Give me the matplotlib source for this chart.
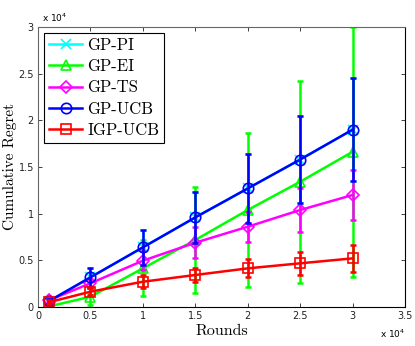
import numpy as np
import matplotlib
matplotlib.use("Agg")
import matplotlib.pyplot as plt
from matplotlib.ticker import FuncFormatter

# rounds and cumulative regret
rounds = [1000, 5000, 10000, 15000, 20000, 25000, 30000]

labels = ["GP-PI", "GP-EI", "GP-TS", "GP-UCB", "IGP-UCB"]
colors = ["#00ffff", "#00ff00", "#ff00ff", "#0000ff", "#ff0000"]
markers = ["x", "^", "D", "o", "s"]

pi_mean = [600, 3180, 6390, 9600, 12700, 15800, 19000]
pi_err = [250, 1000, 1860, 2750, 3700, 4650, 5550]
ei_mean = [50, 1100, 4140, 7180, 10390, 13420, 16630]
ei_err = [300, 900, 3000, 5700, 8300, 10800, 13400]
ts_mean = [700, 2540, 4960, 6890, 8600, 10390, 12000]
ts_err = [300, 500, 1000, 1650, 1600, 2400, 2700]
ucb_mean = [600, 3180, 6390, 9600, 12700, 15800, 19000]
ucb_err = [250, 1000, 1860, 2750, 3700, 4650, 5550]
igp_mean = [500, 1640, 2710, 3430, 4140, 4680, 5210]
igp_err = [200, 400, 700, 800, 970, 1250, 1430]

means = [pi_mean, ei_mean, ts_mean, ucb_mean, igp_mean]
errs = [pi_err, ei_err, ts_err, ucb_err, igp_err]

fig = plt.figure(figsize=(4.15, 3.46), dpi=100)
ax = fig.add_axes([0.0916, 0.1127, 0.8844, 0.8093])

for m, e, c, mk, lab in zip(means, errs, colors, markers, labels):
    ms = 6 if mk == "D" else 7.5
    ax.errorbar(rounds, m, yerr=e, color=c, lw=1.8, elinewidth=1.8,
                capsize=2.3, capthick=1.8, fmt="none")
    ax.plot(rounds, m, color=c, lw=1.8, marker=mk, ms=ms, mfc="none",
            mec=c, mew=1.2, label=lab)

ax.set_xlim(0, 35000)
ax.set_ylim(0, 30000)
ax.set_xticks(np.arange(0, 35001, 5000))
ax.set_yticks(np.arange(0, 30001, 5000))
fmt = FuncFormatter(lambda v, _: "%g" % (v / 1e4))
ax.xaxis.set_major_formatter(fmt)
ax.yaxis.set_major_formatter(fmt)
ax.tick_params(direction="in", top=True, right=True, length=3, width=0.6,
               labelsize=7, colors="#222222", pad=3)
for s in ax.spines.values():
    s.set_color("#666666")
    s.set_linewidth(0.8)
ax.spines["right"].set_color("black")
ax.spines["bottom"].set_color("black")

ax.set_xlabel("Rounds", fontfamily="cmr10", fontsize=11.5, labelpad=2)
ax.set_ylabel("Cumulative Regret", fontfamily="cmr10", fontsize=11, labelpad=1)

ax.text(0.01, 1.012, r"x 10$^4$", transform=ax.transAxes, fontsize=6.5,
        ha="left", va="bottom")
ax.text(1.0, -0.075, r"x 10$^4$", transform=ax.transAxes, fontsize=6.5,
        ha="right", va="top")

leg = ax.legend(loc="upper left", prop={"family": "cmr10", "size": 12},
                fancybox=False, framealpha=1, edgecolor="black",
                handlelength=2.0, handletextpad=0.3, borderpad=0.3,
                labelspacing=0.35, borderaxespad=0.35)
leg.get_frame().set_linewidth(0.8)

fig.savefig("out.png", dpi=100)
